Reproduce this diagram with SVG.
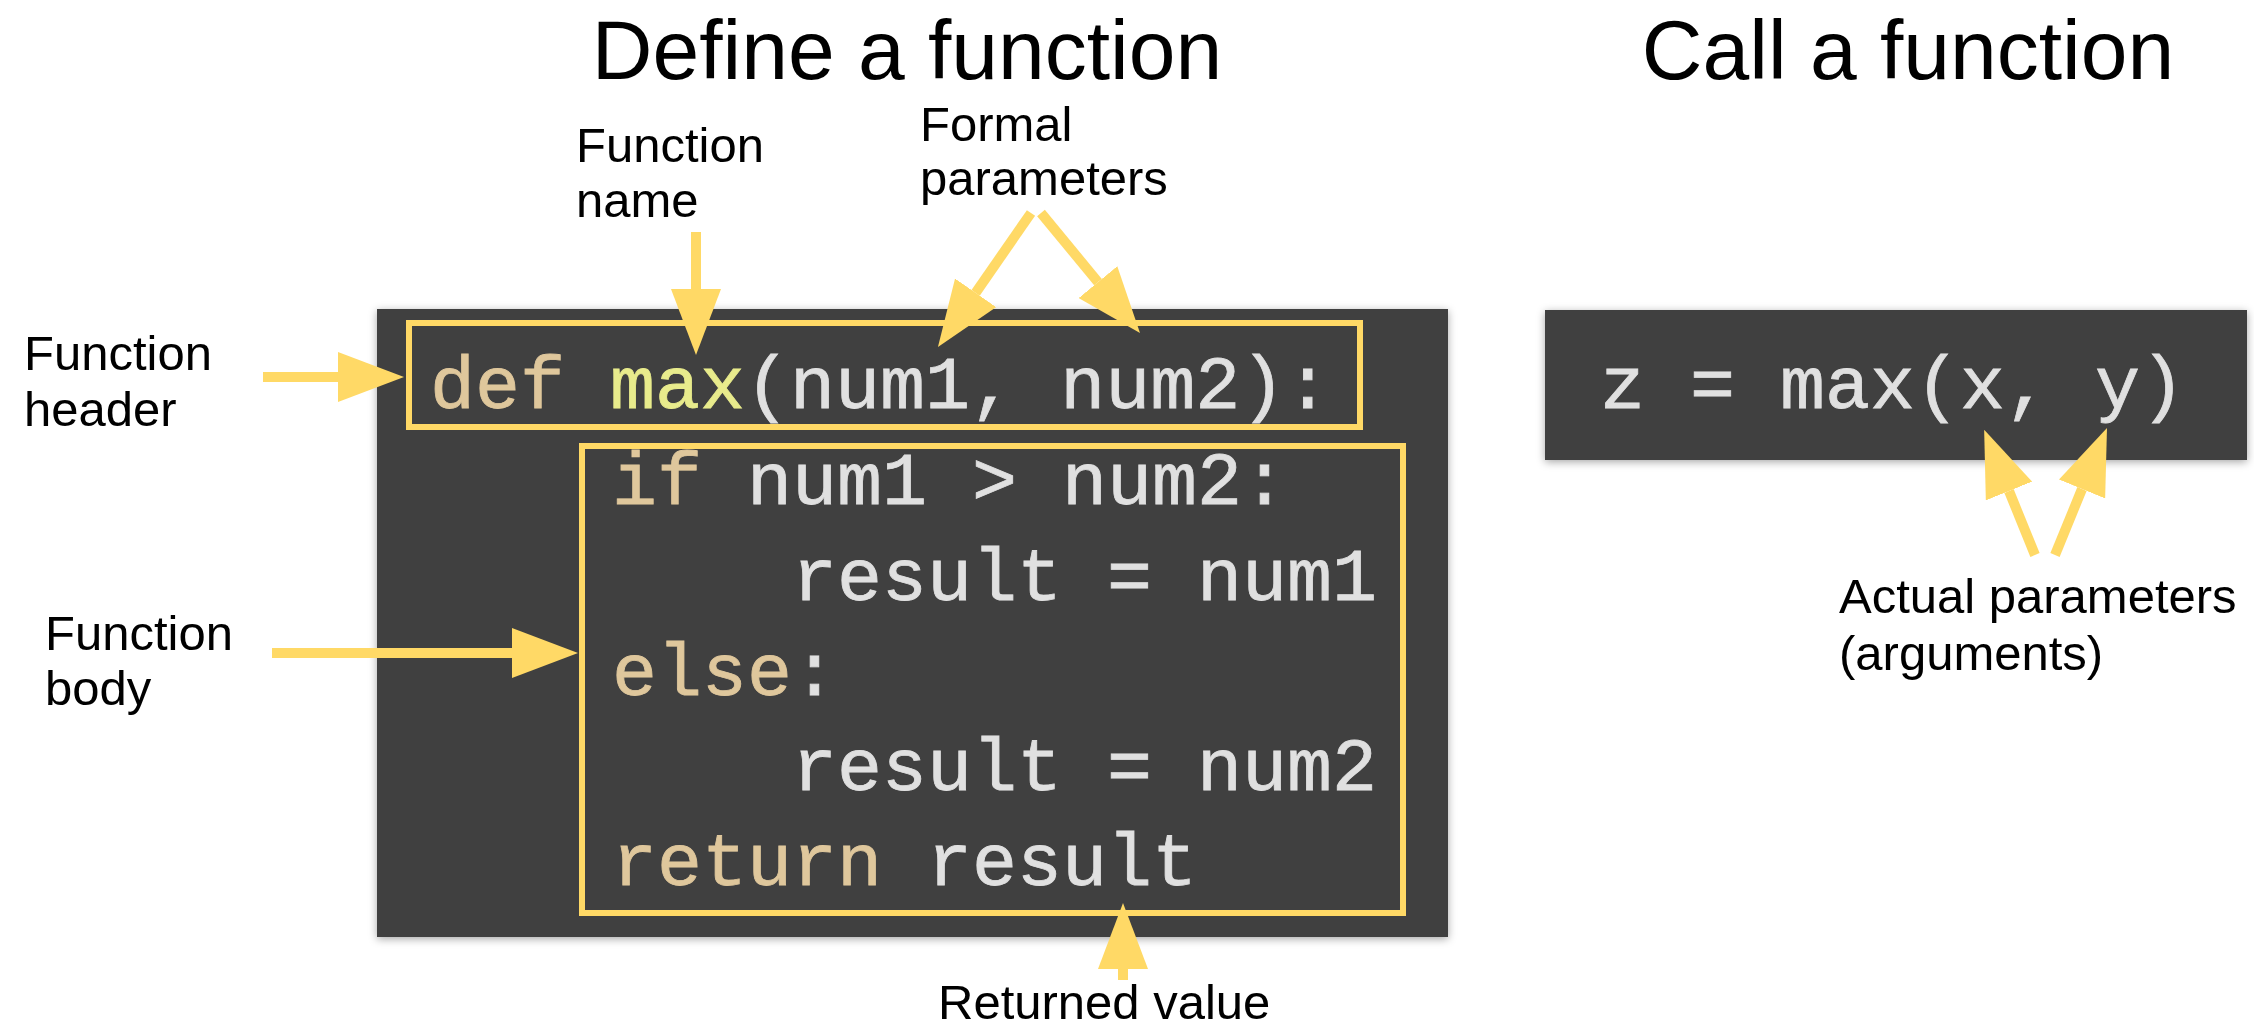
<svg xmlns="http://www.w3.org/2000/svg" width="2254" height="1031" viewBox="0 0 2254 1031">
<defs>
<style>
.title{font-family:"Liberation Sans",Arial,sans-serif;font-size:84px;fill:#000}
.lbl{font-family:"Liberation Sans",Arial,sans-serif;font-size:49px;fill:#000}
.code{font-family:"Liberation Mono","Courier New",monospace;font-size:75px;fill:#E0E0E0;white-space:pre;stroke:#E0E0E0;stroke-width:0.8}
.kw{fill:#DFC79C;stroke:#DFC79C}
.fn{fill:#E8EB8C;stroke:#E8EB8C}
.panel{fill:#404040}
.hl{fill:none;stroke:#FFD966;stroke-width:6}
.arrow{stroke:#FFD966;stroke-width:10;fill:none;marker-end:url(#head)}
</style>
<filter id="sh" x="-5%" y="-10%" width="110%" height="120%">
<feDropShadow dx="0" dy="2" stdDeviation="4" flood-color="#000" flood-opacity="0.35"/>
</filter>
<marker id="head" markerUnits="userSpaceOnUse" markerWidth="66" markerHeight="50" viewBox="0 0 66 50" refX="0" refY="25" orient="auto">
<path d="M0,0 L66,25 L0,50 Z" fill="#FFD966"/>
</marker>
</defs>
<rect width="2254" height="1031" fill="#fff"/>

<g id="title-define"><text class="title" x="907" y="79" text-anchor="middle">Define a function</text></g>
<g id="title-call"><text class="title" x="1908" y="79" text-anchor="middle">Call a function</text></g>

<g id="def-panel">
<rect class="panel" x="377" y="309" width="1071" height="628" filter="url(#sh)"/>
<text class="code" x="430" y="408"><tspan class="kw">def</tspan> <tspan class="fn">max</tspan>(num1, num2):</text>
<text class="code" x="612" y="504"><tspan class="kw">if</tspan> num1 &gt; num2:</text>
<text class="code" x="792" y="600">result = num1</text>
<text class="code" x="612" y="695"><tspan class="kw">else</tspan>:</text>
<text class="code" x="792" y="790">result = num2</text>
<text class="code" x="612" y="885"><tspan class="kw">return</tspan> result</text>
</g>
<g id="header-box"><rect class="hl" x="409" y="323" width="951" height="104"/></g>
<g id="body-box"><rect class="hl" x="582" y="446" width="821" height="467"/></g>

<g id="call-panel">
<rect class="panel" x="1545" y="310" width="702" height="150" filter="url(#sh)"/>
<text class="code" x="1600" y="408">z = max(x, y)</text>
</g>

<g id="label-function-name"><text class="lbl" x="576" y="162">Function</text><text class="lbl" x="576" y="217">name</text></g>
<g id="label-formal"><text class="lbl" x="920" y="141">Formal</text><text class="lbl" x="920" y="195">parameters</text></g>
<g id="label-header"><text class="lbl" x="24" y="370">Function</text><text class="lbl" x="24" y="426">header</text></g>
<g id="label-body"><text class="lbl" x="45" y="650">Function</text><text class="lbl" x="45" y="705">body</text></g>
<g id="label-returned"><text class="lbl" x="938" y="1019">Returned value</text></g>
<g id="label-actual"><text class="lbl" x="1839" y="613">Actual parameters</text><text class="lbl" x="1839" y="670">(arguments)</text></g>

<g id="connectors">
<line class="arrow" x1="263" y1="377" x2="338" y2="377"/>
<line class="arrow" x1="696" y1="232" x2="696" y2="289"/>
<line class="arrow" x1="1031" y1="213" x2="975.6" y2="292.8"/>
<line class="arrow" x1="1041" y1="213" x2="1098" y2="282.1"/>
<line class="arrow" x1="272" y1="653" x2="512" y2="653"/>
<line class="arrow" x1="1123" y1="980" x2="1123" y2="969"/>
<line class="arrow" x1="2035" y1="555" x2="2009" y2="491"/>
<line class="arrow" x1="2055" y1="555" x2="2082" y2="489"/>
</g>
</svg>
